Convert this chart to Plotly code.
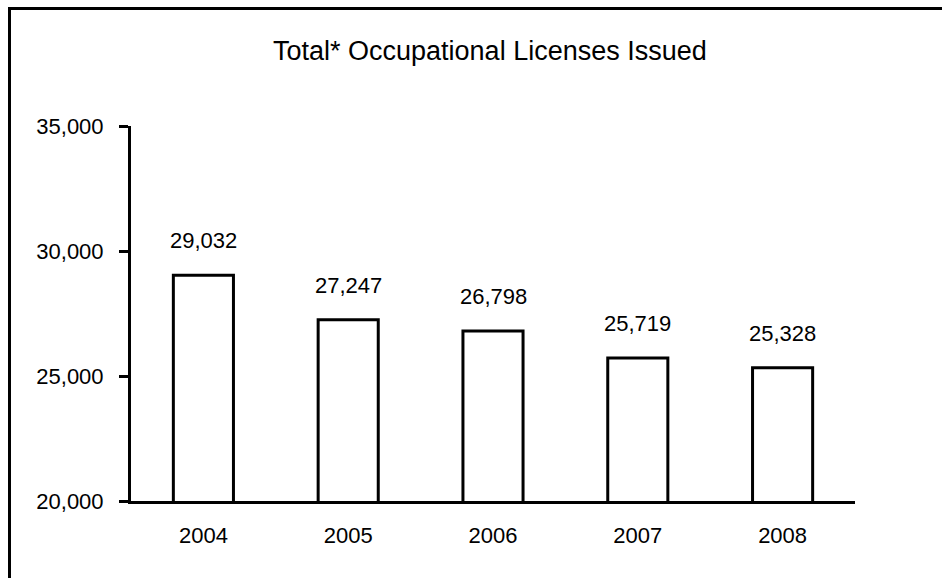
import plotly.graph_objects as go

# Licenses issued per year
years = ["2004", "2005", "2006", "2007", "2008"]
licenses = [29032, 27247, 26798, 25719, 25328]
y_ticks = [20000, 25000, 30000, 35000]
y_tick_labels = ["20,000", "25,000", "30,000", "35,000"]

FONT = "Liberation Sans, Arial, sans-serif"
W, H = 942, 578
ML, MR, MT, MB = 131, 87, 126, 77
PW, PH = W - ML - MR, H - MT - MB


def px_to_paper_x(px):
    return (px - ML) / PW


def px_to_paper_y(py):
    return (H - MB - py) / PH


fig = go.Figure()
fig.add_trace(go.Bar(
    x=years,
    y=licenses,
    marker=dict(color="white", line=dict(color="black", width=3)),
    hoverinfo="x+y",
))

# value labels above each bar (category index positions)
for i, v in enumerate(licenses):
    fig.add_annotation(
        x=i, y=v, text=f"{v:,}", showarrow=False,
        yanchor="bottom", yshift=20,
        font=dict(family=FONT, size=22, color="black"),
    )

# chart title
fig.add_annotation(
    x=px_to_paper_x(490), y=px_to_paper_y(51), xref="paper", yref="paper",
    text="Total* Occupational Licenses Issued", showarrow=False,
    xanchor="center", yanchor="middle",
    font=dict(family=FONT, size=27, color="black"),
)

# outer frame
fig.add_shape(
    type="rect", xref="paper", yref="paper",
    x0=px_to_paper_x(9.5), x1=px_to_paper_x(960),
    y0=px_to_paper_y(600), y1=px_to_paper_y(8.5),
    line=dict(color="black", width=3), fillcolor="rgba(0,0,0,0)",
    layer="above",
)

fig.update_layout(
    width=W, height=H,
    margin=dict(l=ML, r=MR, t=MT, b=MB, pad=0),
    paper_bgcolor="white", plot_bgcolor="white",
    showlegend=False,
    bargap=0.585,
    font=dict(family=FONT, size=22, color="black"),
    xaxis=dict(
        type="category",
        range=[-0.5, len(years) - 0.5],
        showline=True, linecolor="black", linewidth=3,
        ticks="", showgrid=False, zeroline=False,
        tickfont=dict(family=FONT, size=22),
        ticklabelstandoff=13,
        fixedrange=True,
    ),
    yaxis=dict(
        range=[20000, 35000],
        tickvals=y_ticks, ticktext=y_tick_labels,
        showline=True, linecolor="black", linewidth=3,
        ticks="outside", ticklen=9, tickwidth=3, tickcolor="black",
        showgrid=False, zeroline=False,
        tickfont=dict(family=FONT, size=22),
        ticklabelstandoff=11,
        fixedrange=True,
    ),
)

fig.write_html("out.html", config={"displayModeBar": False})
